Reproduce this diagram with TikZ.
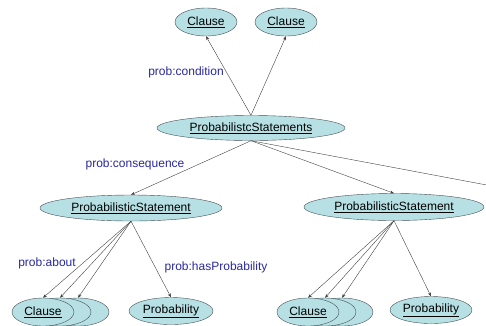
\documentclass[tikz,border=0pt]{standalone}
\usepackage{fontspec}
\setmainfont{Liberation Sans}
\usetikzlibrary{shapes.geometric, arrows.meta, positioning, calc}
\definecolor{ovalfill}{RGB}{182, 224, 228}
\definecolor{ovalline}{RGB}{70, 80, 85}
\definecolor{propblue}{RGB}{40, 40, 160}
\tikzset{
    oval/.style = {ellipse, draw=ovalline, fill=ovalfill, inner sep=0pt, font=\fontsize{12}{14}\selectfont},
    clause/.style = {oval, minimum width=62pt, minimum height=28pt},
    prop/.style = {text=propblue, font=\fontsize{12}{14}\selectfont},
    arrow/.style = {draw=black!75, -{Stealth[length=4pt, width=3pt]}},
    line/.style = {draw=black!75, -}
}

\begin{document}
\begin{tikzpicture}[x=1pt, y=-1pt]
\useasboundingbox (0,0) rectangle (486,325);
\node (C1) [clause] at (206,22) {\underline{Clause}};
\node (C2) [clause] at (286,22) {\underline{Clause}};
\node (S) [oval, minimum width=188pt, minimum height=25pt] at (251,128) {\underline{ProbabilistcStatements}};
\node (PL) [oval, minimum width=182pt, minimum height=26pt] at (131,208) {\underline{ProbabilisticStatement}};
\node (PR) [oval, minimum width=180pt, minimum height=27pt] at (394,207) {\underline{ProbabilisticStatement}};
\coordinate (E) at (492,186);

% stacked clauses, left
\node (LC3) [clause] at (78,312) {};
\node (LC2) [clause] at (60,312) {};
\node (LC1) [clause] at (43,312) {\underline{Clause}};
\node (LP) [oval, minimum width=84pt, minimum height=27pt] at (171,311) {\underline{Probability}};

% stacked clauses, right
\node (RC3) [clause] at (342,312) {};
\node (RC2) [clause] at (325,312) {};
\node (RC1) [clause] at (308,312) {\underline{Clause}};
\node (RP) [oval, minimum width=82pt, minimum height=27pt] at (431,310) {\underline{Probability}};

\draw [arrow] (S.north) -- (C1.south);
\draw [arrow] (S.north) -- (C2.south);
\draw [arrow] (S.south) -- (PL.north);
\draw [arrow] (S.south) -- (PR.north);
\draw [line] (S.south) -- (E);

\draw [arrow] (PL.south) -- (LC1.north);
\draw [arrow] (PL.south) -- (LC2.north);
\draw [arrow] (PL.south) -- (LC3.north);
\draw [arrow] (PL.south) -- (LP.north);

\draw [arrow] (PR.south) -- (RC1.north);
\draw [arrow] (PR.south) -- (RC2.north);
\draw [arrow] (PR.south) -- (RC3.north);
\draw [arrow] (PR.south) -- (RP.north);

\node (Lcond) [prop] at (186,72) {prob:condition};
\node (Lcons) [prop] at (135,164) {prob:consequence};
\node (Labout) [prop] at (47,263) {prob:about};
\node (Lhas) [prop] at (216,267) {prob:hasProbability};
\end{tikzpicture}
\end{document}
